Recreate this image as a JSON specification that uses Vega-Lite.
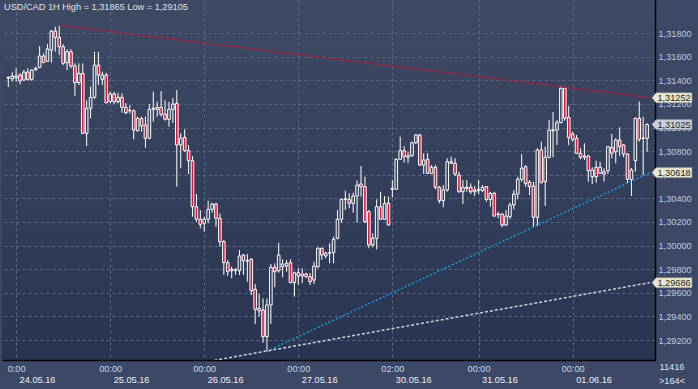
{
"$schema": "https://vega.github.io/schema/vega-lite/v6.json",
"width": 653, "height": 360,
"autosize": {"type": "none"},
"padding": {"left": 2, "top": 0, "right": 43, "bottom": 29},
"background": "#3c4866",
"config": {
  "view": {"stroke": null, "fill": {"gradient": "linear", "x1": 0, "y1": 0, "x2": 0, "y2": 1, "stops": [{"offset": 0, "color": "#3f4b65"}, {"offset": 1, "color": "#293451"}]}},
  "font": "Liberation Sans"
},
"title": {"text": "USD/CAD 1H High = 1,31865 Low = 1,29105", "anchor": "start", "frame": "group", "offset": -19, "dx": 2, "fontSize": 9.2, "fontWeight": "normal", "font": "Liberation Sans", "color": "#dce3ec", "baseline": "alphabetic"},
"resolve": {"axis": {"x": "independent", "y": "independent"}},
"datasets": {
"candles": [
{"k":0,"o":1.31424,"h":1.31436,"l":1.31343,"c":1.31419},
{"k":1,"o":1.31413,"h":1.31468,"l":1.31388,"c":1.31436},
{"k":2,"o":1.31422,"h":1.31502,"l":1.31388,"c":1.31436},
{"k":3,"o":1.31445,"h":1.31459,"l":1.31366,"c":1.31394},
{"k":4,"o":1.31402,"h":1.31487,"l":1.31397,"c":1.3147},
{"k":5,"o":1.3147,"h":1.31502,"l":1.31397,"c":1.31408},
{"k":6,"o":1.31408,"h":1.31493,"l":1.31397,"c":1.31487},
{"k":7,"o":1.3149,"h":1.31515,"l":1.31481,"c":1.31502},
{"k":8,"o":1.3151,"h":1.3169,"l":1.31502,"c":1.31606},
{"k":9,"o":1.31606,"h":1.31629,"l":1.31544,"c":1.31552},
{"k":10,"o":1.31561,"h":1.31707,"l":1.31555,"c":1.31665},
{"k":11,"o":1.31657,"h":1.31826,"l":1.31549,"c":1.31817},
{"k":12,"o":1.31817,"h":1.31854,"l":1.31642,"c":1.31764},
{"k":13,"o":1.31764,"h":1.31865,"l":1.31614,"c":1.31684},
{"k":14,"o":1.31684,"h":1.31707,"l":1.31529,"c":1.31544},
{"k":15,"o":1.31549,"h":1.31662,"l":1.31487,"c":1.31642},
{"k":16,"o":1.31642,"h":1.31662,"l":1.31502,"c":1.31521},
{"k":17,"o":1.31521,"h":1.31544,"l":1.31267,"c":1.3138},
{"k":18,"o":1.3138,"h":1.31544,"l":1.3136,"c":1.31459},
{"k":19,"o":1.31459,"h":1.31544,"l":1.30945,"c":1.30951},
{"k":20,"o":1.30951,"h":1.3123,"l":1.30843,"c":1.31163},
{"k":21,"o":1.31163,"h":1.31346,"l":1.31078,"c":1.31256},
{"k":22,"o":1.31256,"h":1.31642,"l":1.31241,"c":1.31529},
{"k":23,"o":1.31529,"h":1.31642,"l":1.3136,"c":1.31445},
{"k":24,"o":1.31408,"h":1.31473,"l":1.3136,"c":1.31445},
{"k":25,"o":1.31445,"h":1.31464,"l":1.31205,"c":1.3121},
{"k":26,"o":1.31219,"h":1.31303,"l":1.31205,"c":1.31284},
{"k":27,"o":1.31284,"h":1.31303,"l":1.31199,"c":1.31219},
{"k":28,"o":1.31219,"h":1.31295,"l":1.31205,"c":1.31256},
{"k":29,"o":1.31256,"h":1.3129,"l":1.31125,"c":1.31171},
{"k":30,"o":1.31171,"h":1.31205,"l":1.31114,"c":1.31125},
{"k":31,"o":1.31146,"h":1.31191,"l":1.3112,"c":1.31142},
{"k":32,"o":1.31142,"h":1.31154,"l":1.309,"c":1.30979},
{"k":33,"o":1.30973,"h":1.31092,"l":1.30965,"c":1.31078},
{"k":34,"o":1.31075,"h":1.31092,"l":1.30965,"c":1.31013},
{"k":35,"o":1.31021,"h":1.31092,"l":1.30829,"c":1.30909},
{"k":36,"o":1.30909,"h":1.31199,"l":1.309,"c":1.31154},
{"k":37,"o":1.31154,"h":1.31303,"l":1.31049,"c":1.31163},
{"k":38,"o":1.31154,"h":1.31219,"l":1.31092,"c":1.31171},
{"k":39,"o":1.31171,"h":1.31309,"l":1.31092,"c":1.31112},
{"k":40,"o":1.31114,"h":1.3123,"l":1.31058,"c":1.3107},
{"k":41,"o":1.3107,"h":1.31219,"l":1.31007,"c":1.31154},
{"k":42,"o":1.31154,"h":1.3125,"l":1.31041,"c":1.31199},
{"k":43,"o":1.31205,"h":1.31318,"l":1.30499,"c":1.30852},
{"k":44,"o":1.30852,"h":1.30951,"l":1.30655,"c":1.30909},
{"k":45,"o":1.30917,"h":1.30985,"l":1.30795,"c":1.30804},
{"k":46,"o":1.30804,"h":1.30852,"l":1.30606,"c":1.30719},
{"k":47,"o":1.30719,"h":1.30759,"l":1.30245,"c":1.30329},
{"k":48,"o":1.30329,"h":1.30437,"l":1.30202,"c":1.30223},
{"k":49,"o":1.30223,"h":1.30301,"l":1.30146,"c":1.3018},
{"k":50,"o":1.30189,"h":1.30245,"l":1.30118,"c":1.30223},
{"k":51,"o":1.30223,"h":1.3038,"l":1.30189,"c":1.30307},
{"k":52,"o":1.30307,"h":1.30363,"l":1.30278,"c":1.30352},
{"k":53,"o":1.30352,"h":1.30363,"l":1.3016,"c":1.30231},
{"k":54,"o":1.30231,"h":1.30273,"l":1.29991,"c":1.30033},
{"k":55,"o":1.30033,"h":1.30047,"l":1.29751,"c":1.29855},
{"k":56,"o":1.29855,"h":1.29878,"l":1.29742,"c":1.29779},
{"k":57,"o":1.29787,"h":1.29821,"l":1.29723,"c":1.29799},
{"k":58,"o":1.29787,"h":1.29807,"l":1.29751,"c":1.29799},
{"k":59,"o":1.29787,"h":1.29962,"l":1.29751,"c":1.29912},
{"k":60,"o":1.2992,"h":1.29929,"l":1.29751,"c":1.29872},
{"k":61,"o":1.29872,"h":1.29929,"l":1.29694,"c":1.29868},
{"k":62,"o":1.29884,"h":1.29892,"l":1.29581,"c":1.29618},
{"k":63,"o":1.2963,"h":1.29675,"l":1.29336,"c":1.2946},
{"k":64,"o":1.29469,"h":1.2959,"l":1.29398,"c":1.29448},
{"k":65,"o":1.29454,"h":1.29553,"l":1.29177,"c":1.29228},
{"k":66,"o":1.29228,"h":1.29553,"l":1.29105,"c":1.29497},
{"k":67,"o":1.29497,"h":1.29844,"l":1.29336,"c":1.29816},
{"k":68,"o":1.29816,"h":1.2985,"l":1.29647,"c":1.29779},
{"k":69,"o":1.29787,"h":1.30024,"l":1.2977,"c":1.2992},
{"k":70,"o":1.29821,"h":1.29884,"l":1.29731,"c":1.29844},
{"k":71,"o":1.29827,"h":1.29878,"l":1.29779,"c":1.2985},
{"k":72,"o":1.29855,"h":1.29884,"l":1.2968,"c":1.29686},
{"k":73,"o":1.29686,"h":1.29779,"l":1.29567,"c":1.2977},
{"k":74,"o":1.2977,"h":1.29807,"l":1.29666,"c":1.29742},
{"k":75,"o":1.29742,"h":1.29807,"l":1.2968,"c":1.29759},
{"k":76,"o":1.29759,"h":1.2977,"l":1.29723,"c":1.29736},
{"k":77,"o":1.29736,"h":1.29768,"l":1.29666,"c":1.29694},
{"k":78,"o":1.29708,"h":1.29863,"l":1.29675,"c":1.29827},
{"k":79,"o":1.29821,"h":1.29985,"l":1.29807,"c":1.29977},
{"k":80,"o":1.29977,"h":1.29985,"l":1.29878,"c":1.2992},
{"k":81,"o":1.29912,"h":1.29948,"l":1.29892,"c":1.29935},
{"k":82,"o":1.29935,"h":1.30019,"l":1.2985,"c":1.2994},
{"k":83,"o":1.2994,"h":1.30075,"l":1.2985,"c":1.30053},
{"k":84,"o":1.30062,"h":1.30301,"l":1.30053,"c":1.30223},
{"k":85,"o":1.30223,"h":1.304,"l":1.30194,"c":1.3039},
{"k":86,"o":1.3039,"h":1.30465,"l":1.30301,"c":1.30396},
{"k":87,"o":1.3039,"h":1.30443,"l":1.30316,"c":1.30358},
{"k":88,"o":1.30358,"h":1.30448,"l":1.30278,"c":1.3042},
{"k":89,"o":1.3042,"h":1.3055,"l":1.30194,"c":1.30513},
{"k":90,"o":1.30522,"h":1.30674,"l":1.30414,"c":1.30499},
{"k":91,"o":1.30499,"h":1.30583,"l":1.30189,"c":1.30202},
{"k":92,"o":1.30287,"h":1.30301,"l":1.29977,"c":1.30005},
{"k":93,"o":1.30005,"h":1.30104,"l":1.29985,"c":1.30062},
{"k":94,"o":1.30062,"h":1.30392,"l":1.29968,"c":1.30329},
{"k":95,"o":1.30329,"h":1.30456,"l":1.30217,"c":1.30223},
{"k":96,"o":1.30223,"h":1.3042,"l":1.30217,"c":1.30358},
{"k":97,"o":1.30358,"h":1.30414,"l":1.3017,"c":1.30174},
{"k":98,"o":1.30477,"h":1.30555,"l":1.30409,"c":1.30485},
{"k":99,"o":1.30477,"h":1.30739,"l":1.30471,"c":1.30731},
{"k":100,"o":1.30731,"h":1.30922,"l":1.30725,"c":1.30804},
{"k":101,"o":1.30804,"h":1.30843,"l":1.30702,"c":1.30753},
{"k":102,"o":1.30748,"h":1.30795,"l":1.30697,"c":1.30761},
{"k":103,"o":1.30761,"h":1.3088,"l":1.30753,"c":1.30871},
{"k":104,"o":1.30871,"h":1.30945,"l":1.3086,"c":1.30937},
{"k":105,"o":1.30937,"h":1.30945,"l":1.30674,"c":1.30682},
{"k":106,"o":1.30682,"h":1.30782,"l":1.30606,"c":1.30725},
{"k":107,"o":1.30731,"h":1.30782,"l":1.30606,"c":1.30612},
{"k":108,"o":1.30612,"h":1.30682,"l":1.30606,"c":1.30663},
{"k":109,"o":1.30663,"h":1.30682,"l":1.30477,"c":1.30494},
{"k":110,"o":1.30494,"h":1.30505,"l":1.30358,"c":1.3038},
{"k":111,"o":1.3038,"h":1.30513,"l":1.30324,"c":1.30471},
{"k":112,"o":1.30471,"h":1.30739,"l":1.30456,"c":1.3071},
{"k":113,"o":1.3071,"h":1.30753,"l":1.30691,"c":1.30697},
{"k":114,"o":1.30697,"h":1.30739,"l":1.30589,"c":1.30606},
{"k":115,"o":1.30598,"h":1.30626,"l":1.30448,"c":1.30456},
{"k":116,"o":1.30456,"h":1.30555,"l":1.30352,"c":1.30494},
{"k":117,"o":1.30485,"h":1.30555,"l":1.30456,"c":1.30494},
{"k":118,"o":1.30494,"h":1.30527,"l":1.30437,"c":1.30456},
{"k":119,"o":1.30471,"h":1.30505,"l":1.3042,"c":1.30456},
{"k":120,"o":1.30465,"h":1.30555,"l":1.30437,"c":1.30477},
{"k":121,"o":1.30465,"h":1.30513,"l":1.30456,"c":1.30494},
{"k":122,"o":1.30499,"h":1.30505,"l":1.30372,"c":1.3039},
{"k":123,"o":1.3039,"h":1.30456,"l":1.30329,"c":1.30443},
{"k":124,"o":1.30443,"h":1.30456,"l":1.30245,"c":1.3025},
{"k":125,"o":1.30263,"h":1.30287,"l":1.30231,"c":1.30267},
{"k":126,"o":1.30267,"h":1.30273,"l":1.30155,"c":1.30174},
{"k":127,"o":1.30174,"h":1.30301,"l":1.30166,"c":1.3025},
{"k":128,"o":1.30245,"h":1.30363,"l":1.30223,"c":1.30344},
{"k":129,"o":1.30344,"h":1.30471,"l":1.30307,"c":1.30437},
{"k":130,"o":1.30437,"h":1.30583,"l":1.30392,"c":1.30561},
{"k":131,"o":1.30561,"h":1.30776,"l":1.30541,"c":1.30655},
{"k":132,"o":1.30668,"h":1.30682,"l":1.30499,"c":1.30527},
{"k":133,"o":1.30538,"h":1.30555,"l":1.30428,"c":1.30499},
{"k":134,"o":1.30505,"h":1.30541,"l":1.3016,"c":1.3024},
{"k":135,"o":1.3024,"h":1.30824,"l":1.30166,"c":1.3081},
{"k":136,"o":1.3081,"h":1.3088,"l":1.30527,"c":1.30533},
{"k":137,"o":1.30541,"h":1.30838,"l":1.30335,"c":1.30748},
{"k":138,"o":1.30748,"h":1.31064,"l":1.30739,"c":1.30979},
{"k":139,"o":1.30973,"h":1.31131,"l":1.30748,"c":1.30979},
{"k":140,"o":1.30979,"h":1.31064,"l":1.30852,"c":1.31041},
{"k":141,"o":1.31041,"h":1.31352,"l":1.31036,"c":1.31332},
{"k":142,"o":1.31332,"h":1.31346,"l":1.31058,"c":1.31078},
{"k":143,"o":1.31086,"h":1.31182,"l":1.30852,"c":1.30917},
{"k":144,"o":1.30945,"h":1.30965,"l":1.3088,"c":1.309},
{"k":145,"o":1.30909,"h":1.30937,"l":1.30776,"c":1.30782},
{"k":146,"o":1.30782,"h":1.30824,"l":1.30731,"c":1.30748},
{"k":147,"o":1.30748,"h":1.30866,"l":1.30725,"c":1.30759},
{"k":148,"o":1.30759,"h":1.30767,"l":1.30541,"c":1.30634},
{"k":149,"o":1.30583,"h":1.30663,"l":1.30522,"c":1.3064},
{"k":150,"o":1.30663,"h":1.30719,"l":1.30533,"c":1.30583},
{"k":151,"o":1.30612,"h":1.3071,"l":1.30606,"c":1.30663},
{"k":152,"o":1.30626,"h":1.30655,"l":1.30541,"c":1.30606},
{"k":153,"o":1.30634,"h":1.30843,"l":1.30606,"c":1.30838},
{"k":154,"o":1.30832,"h":1.30945,"l":1.30739,"c":1.30782},
{"k":155,"o":1.30795,"h":1.30909,"l":1.30697,"c":1.30894},
{"k":156,"o":1.30894,"h":1.31002,"l":1.30759,"c":1.30838},
{"k":157,"o":1.30852,"h":1.3086,"l":1.30748,"c":1.30776},
{"k":158,"o":1.30776,"h":1.30782,"l":1.30527,"c":1.30561},
{"k":159,"o":1.30561,"h":1.30657,"l":1.3042,"c":1.3064},
{"k":160,"o":1.30719,"h":1.31086,"l":1.30626,"c":1.31078},
{"k":161,"o":1.31078,"h":1.31219,"l":1.3088,"c":1.309},
{"k":162,"o":1.30909,"h":1.31092,"l":1.30598,"c":1.30911},
{"k":163,"o":1.30909,"h":1.31036,"l":1.30795,"c":1.31025}
],
"lines": [
{"name":"red","k":13,"p":1.31865},{"name":"red","k":163.74,"p":1.31252},
{"name":"cyan","k":66,"p":1.29105},{"name":"cyan","k":163.74,"p":1.30618},
{"name":"white","k":40,"p":1.28953},{"name":"white","k":163.74,"p":1.29686}
],
"tags": [
{"p":1.31252,"label":"1,31252","bg":"#e9e6c9"},
{"p":1.31025,"label":"1,31025","bg":"#c9ced8"},
{"p":1.30618,"label":"1,30618","bg":"#e9e6c9"},
{"p":1.29686,"label":"1,29686","bg":"#e9e6c9"}
],
"info": [
{"t":"11416","p":1.28972},
{"t":">164<","p":1.28853}
]
},
"layer": [
{
 "data": {"name": "candles"},
 "mark": {"type": "rule", "color": "#ffffff", "strokeWidth": 1},
 "encoding": {
  "x": {"field": "k", "type": "quantitative", "scale": {"domain": [-0.327, 163.74], "nice": false, "zero": false},
   "axis": {"orient": "bottom", "values": [2, 26, 50, 74, 98, 120, 144], "labelExpr": "datum.value == 2 ? '0:00' : datum.value == 98 ? '02:00' : '00:00'", "title": null, "grid": true, "gridColor": "#5c6985", "gridDash": [3, 3], "gridWidth": 1, "ticks": false, "domain": true, "domainColor": "#000000", "domainWidth": 1.5, "labelColor": "#c6d6ee", "labelFont": "Liberation Sans", "labelFontSize": 9.2, "labelPadding": 4, "labelAlign": "center", "labelBaseline": "top", "labelOverlap": false, "labelFlush": false}},
  "y": {"field": "l", "type": "quantitative", "scale": {"domain": [1.290306, 1.320804], "nice": false, "zero": false},
   "axis": {"orient": "right", "values": [1.292, 1.294, 1.296, 1.298, 1.3, 1.302, 1.304, 1.306, 1.308, 1.31, 1.312, 1.314, 1.316, 1.318], "labelExpr": "replace(format(datum.value, '.5f'), '.', ',')", "title": null, "grid": true, "gridColor": "#5c6985", "gridDash": [3, 3], "gridWidth": 1, "ticks": false, "domain": true, "domainColor": "#000000", "domainWidth": 1.5, "labelColor": "#bccbe0", "labelFont": "Liberation Sans", "labelFontSize": 9.2, "labelPadding": 3, "labelAlign": "left", "labelBaseline": "middle", "labelOverlap": false, "labelFlush": false}},
  "y2": {"field": "h"}
 }
},
{
 "data": {"name": "candles"},
 "mark": {"type": "bar", "size": 2.6, "stroke": "#ffffff", "strokeWidth": 1},
 "encoding": {
  "x": {"field": "k", "type": "quantitative", "scale": {"domain": [-0.327, 163.74], "nice": false, "zero": false},
   "axis": {"orient": "bottom", "values": [2, 26, 50, 74, 98, 120, 144], "labelExpr": "datum.value == 2 ? '24.05.16' : datum.value == 26 ? '25.05.16' : datum.value == 50 ? '26.05.16' : datum.value == 74 ? '27.05.16' : datum.value == 98 ? '30.05.16' : datum.value == 120 ? '31.05.16' : '01.06.16'", "title": null, "grid": false, "ticks": false, "domain": false, "labelColor": "#eef2f7", "labelFont": "Liberation Sans", "labelFontSize": 9.2, "labelPadding": 15, "labelAlign": "left", "labelOffset": 3, "labelBaseline": "top", "labelOverlap": false, "labelFlush": false}},
  "y": {"field": "o", "type": "quantitative", "scale": {"domain": [1.290306, 1.320804], "nice": false, "zero": false}, "axis": null},
  "y2": {"field": "c"},
  "fill": {"field": "c", "type": "quantitative", "scale": {"domain": [1.2903, 1.3208], "range": ["#2a3552", "#3e4a64"]}, "legend": null,
   "condition": {"test": "datum.c < datum.o", "value": "#e0163c"}}
 }
},
{
 "data": {"name": "lines"},
 "mark": {"type": "line", "clip": true, "strokeWidth": 1.5},
 "encoding": {
  "x": {"field": "k", "type": "quantitative", "scale": {"domain": [-0.327, 163.74], "nice": false, "zero": false}, "axis": null},
  "y": {"field": "p", "type": "quantitative", "scale": {"domain": [1.290306, 1.320804], "nice": false, "zero": false}, "axis": null},
  "detail": {"field": "name"},
  "color": {"field": "name", "type": "nominal", "scale": {"domain": ["red", "cyan", "white"], "range": ["#c8142c", "#1b9ad6", "#c9d1dd"]}, "legend": null},
  "strokeDash": {"field": "name", "type": "nominal", "scale": {"domain": ["red", "cyan", "white"], "range": [[2, 2], [2, 2], [3, 2]]}, "legend": null}
 }
},
{
 "data": {"name": "tags"},
 "mark": {"type": "point", "shape": "M-1,0L-0.8,-0.25L1,-0.25L1,0.25L-0.8,0.25Z", "size": 1600, "filled": true, "opacity": 1, "stroke": "#8a909c", "strokeWidth": 0.6, "xOffset": 22},
 "encoding": {
  "x": {"datum": 163.74, "type": "quantitative", "scale": {"domain": [-0.327, 163.74], "nice": false, "zero": false}, "axis": null},
  "y": {"field": "p", "type": "quantitative", "scale": {"domain": [1.290306, 1.320804], "nice": false, "zero": false}, "axis": null},
  "fill": {"field": "bg", "type": "nominal", "scale": null}
 }
},
{
 "data": {"name": "tags"},
 "mark": {"type": "text", "font": "Liberation Sans", "fontSize": 9.2, "color": "#1e1e1e", "align": "center", "baseline": "middle", "xOffset": 24},
 "encoding": {
  "x": {"datum": 163.74, "type": "quantitative", "scale": {"domain": [-0.327, 163.74], "nice": false, "zero": false}, "axis": null},
  "y": {"field": "p", "type": "quantitative", "scale": {"domain": [1.290306, 1.320804], "nice": false, "zero": false}, "axis": null},
  "text": {"field": "label"}
 }
},
{
 "data": {"name": "info"},
 "mark": {"type": "text", "font": "Liberation Sans", "fontSize": 9.2, "color": "#dfe6ef", "align": "center", "baseline": "middle", "xOffset": 22},
 "encoding": {
  "x": {"datum": 163.74, "type": "quantitative", "scale": {"domain": [-0.327, 163.74], "nice": false, "zero": false}, "axis": null},
  "y": {"field": "p", "type": "quantitative", "scale": {"domain": [1.290306, 1.320804], "nice": false, "zero": false}, "axis": null},
  "text": {"field": "t"}
 }
}
]
}
